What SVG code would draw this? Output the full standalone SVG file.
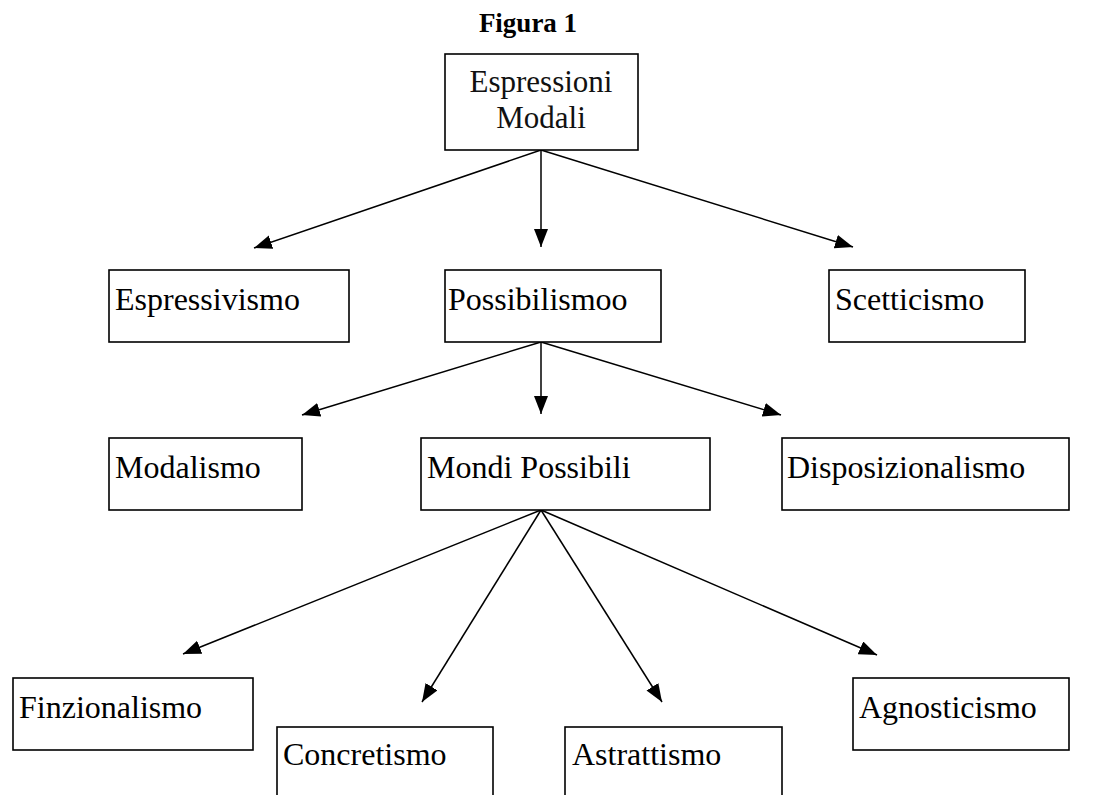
<svg xmlns="http://www.w3.org/2000/svg" width="1109" height="795" viewBox="0 0 1109 795">
<style>
.box{fill:#fff;stroke:#000;stroke-width:1.6}
.t{font-family:"Liberation Serif","Times New Roman",serif;font-size:32px;fill:#000}
.g{font-family:"Liberation Serif","Times New Roman",serif;font-size:31px;fill:#111;text-anchor:middle}
.title{font-family:"Liberation Serif","Times New Roman",serif;font-size:27px;font-weight:bold;fill:#000;text-anchor:middle}
.c{stroke:#000;stroke-width:1.5;fill:none;marker-end:url(#ah)}
</style>
<defs>
<marker id="ah" markerUnits="userSpaceOnUse" markerWidth="19" markerHeight="15" refX="18" refY="7" orient="auto">
<path d="M0,0 L18,7 L0,14 z" fill="#000"/>
</marker>
</defs>
<text class="title" x="528" y="32">Figura 1</text>
<g id="connectors">
<line class="c" x1="541" y1="150" x2="254" y2="248"/>
<line class="c" x1="541" y1="150" x2="541" y2="247"/>
<line class="c" x1="541" y1="150" x2="853" y2="247"/>
<line class="c" x1="541" y1="342" x2="302" y2="415"/>
<line class="c" x1="541" y1="342" x2="541" y2="414"/>
<line class="c" x1="541" y1="342" x2="781" y2="415"/>
<line class="c" x1="541" y1="510" x2="183" y2="654"/>
<line class="c" x1="541" y1="510" x2="422" y2="702"/>
<line class="c" x1="541" y1="510" x2="662" y2="702"/>
<line class="c" x1="541" y1="510" x2="877" y2="655"/>
</g>
<g id="espressioni-modali">
<rect class="box" x="445" y="54" width="193" height="96"/>
<text class="g" x="541" y="92">Espressioni</text>
<text class="g" x="541" y="128">Modali</text>
</g>
<g id="espressivismo">
<rect class="box" x="109" y="270" width="240" height="72"/>
<text class="t" x="115" y="310">Espressivismo</text>
</g>
<g id="possibilismoo">
<rect class="box" x="445" y="270" width="216" height="72"/>
<text class="t" x="448" y="310">Possibilismoo</text>
</g>
<g id="scetticismo">
<rect class="box" x="829" y="270" width="196" height="72"/>
<text class="t" x="835" y="310">Scetticismo</text>
</g>
<g id="modalismo">
<rect class="box" x="109" y="438" width="193" height="72"/>
<text class="t" x="115" y="478">Modalismo</text>
</g>
<g id="mondi-possibili">
<rect class="box" x="421" y="438" width="289" height="72"/>
<text class="t" x="427" y="478">Mondi Possibili</text>
</g>
<g id="disposizionalismo">
<rect class="box" x="782" y="438" width="287" height="72"/>
<text class="t" x="787" y="478">Disposizionalismo</text>
</g>
<g id="finzionalismo">
<rect class="box" x="13" y="678" width="240" height="72"/>
<text class="t" x="19" y="718">Finzionalismo</text>
</g>
<g id="concretismo">
<rect class="box" x="277" y="727" width="216" height="90"/>
<text class="t" x="283" y="765">Concretismo</text>
</g>
<g id="astrattismo">
<rect class="box" x="565" y="727" width="217" height="90"/>
<text class="t" x="572" y="765">Astrattismo</text>
</g>
<g id="agnosticismo">
<rect class="box" x="853" y="678" width="216" height="72"/>
<text class="t" x="859" y="718">Agnosticismo</text>
</g>
</svg>
